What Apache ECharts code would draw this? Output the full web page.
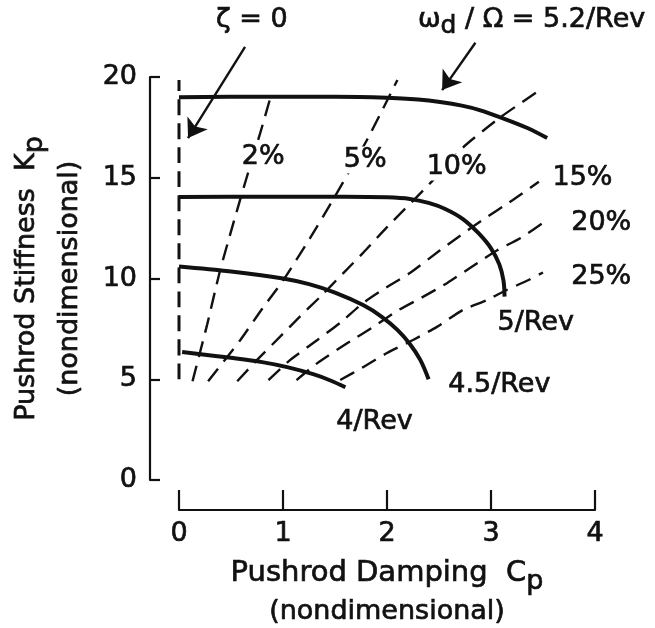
<!DOCTYPE html>
<html><head><meta charset="utf-8">
<script src="https://cdn.jsdelivr.net/npm/echarts@6/dist/echarts.min.js"></script>
<style>html,body{margin:0;padding:0;background:#fff}#c{width:655px;height:628px}</style>
</head><body><div id="c"></div><script>
// Frequency curves (omega_d / Omega), thick solid
const curve52 = [[0,19.0],[0.8,19.02],[1.5,19.02],[2.0,18.97],[2.3,18.88],[2.51,18.76],[2.72,18.58],[2.89,18.36],[3.09,18.0],[3.35,17.47],[3.54,16.97]];
const curve5  = [[0,14.05],[0.8,14.06],[1.6,14.06],[2.0,14.03],[2.22,13.95],[2.4,13.75],[2.56,13.45],[2.73,12.95],[2.88,12.25],[3.0,11.5],[3.08,10.7],[3.12,9.9],[3.13,9.1]];
const curve45 = [[0,10.6],[0.5,10.35],[1.0,10.0],[1.25,9.72],[1.5,9.3],[1.77,8.68],[1.95,8.1],[2.1,7.45],[2.22,6.75],[2.32,5.96],[2.4,5.0]];
const curve4  = [[0.03,6.35],[0.52,6.05],[0.8,5.85],[1.04,5.6],[1.29,5.25],[1.45,4.95],[1.6,4.6]];
// Damping ratio lines, dashed
const zeta0  = [[0,5.0],[0,19.85]];
const damp2  = [[0.13,4.9],[0.27,7.7],[0.39,10.3],[0.52,12.7],[0.65,15.0],[0.78,17.2],[0.88,19.0]];
const damp5  = [[0.28,4.9],[0.59,6.95],[0.8,8.5],[1.0,9.9],[1.26,12.0],[1.48,13.9],[1.81,16.9],[2.1,19.85]];
const damp10 = [[0.56,4.9],[0.75,5.96],[0.97,7.1],[1.16,8.1],[1.36,9.1],[1.58,10.27],[1.77,11.27],[2.0,12.55],[2.41,14.7],[2.73,16.5],[3.09,18.0],[3.47,19.35]];
const damp15 = [[0.86,4.96],[1.07,5.96],[1.33,6.95],[1.55,7.8],[1.77,8.78],[2.0,9.58],[2.22,10.27],[2.51,11.4],[2.67,12.0],[2.89,12.8],[3.21,13.9],[3.46,14.8]];
const damp20 = [[1.13,4.96],[1.33,5.8],[1.62,6.8],[1.87,7.6],[2.1,8.4],[2.35,9.1],[2.58,9.78],[2.87,10.77],[3.06,11.4],[3.28,12.0],[3.54,12.9]];
const damp25 = [[1.55,4.96],[1.77,5.6],[2.0,6.3],[2.25,6.95],[2.48,7.6],[2.73,8.44],[2.96,8.93],[3.15,9.43],[3.35,9.9],[3.5,10.3]];
// Annotation arrows (tail -> head)
const arrowZeta = [[0.635,21.5],[0.087,16.97]];
const arrowOmega = [[2.85,21.7],[2.53,19.35]];
// Text annotations
const labelText = ['ζ = 0','{w|ω}{sub|d}{w| / Ω = 5.2/Rev}','2%','5%','10%','15%','20%','25%','5/Rev','4.5/Rev','4/Rev'];
const labelX = [0.70,3.39,0.81,1.79,2.67,3.88,4.06,4.06,3.43,3.08,1.88];
const labelY = [22.83,22.83,16.03,15.88,15.53,14.99,12.75,10.07,7.79,4.71,2.90];
// Axes
const xTicks = [0,1,2,3,4];
const yTicks = [0,5,10,15,20];

const FONT = 'DejaVu Sans';
const INK = '#111';
const FS = 27;
const BW = 0.7;
const chart = echarts.init(document.getElementById('c'), null, {renderer:'canvas'});
function solid(data){ return {type:'line', data, showSymbol:false, smooth:0.35, lineStyle:{color:INK,width:4}, clip:false, z:3, silent:true}; }
function dashed(data, dash, w){ return {type:'line', data, showSymbol:false, smooth:0.2, lineStyle:{color:INK,width:w||2.4,type:dash||[16,9]}, clip:false, z:2, silent:true}; }
function txt(size, extra){ return Object.assign({fontFamily:FONT, fontSize:size, color:INK, textBorderColor:INK, textBorderWidth:BW}, extra||{}); }
chart.setOption({
  animation:false,
  backgroundColor:'#fff',
  grid:{left:179, right:60, top:77, bottom:148, containLabel:false, outerBoundsMode:'none'},
  xAxis:{type:'value', min:xTicks[0], max:xTicks[xTicks.length-1], interval:1, offset:30,
    axisLine:{show:true, onZero:false, lineStyle:{color:INK,width:2.2}},
    axisTick:{show:true, inside:true, length:20, lineStyle:{color:INK,width:2.2}},
    splitLine:{show:false},
    axisLabel:txt(FS,{margin:10}),
    name:'{a|Pushrod Damping  C}{s|p}\n{b|(nondimensional)}',
    nameLocation:'middle', nameGap:37,
    nameTextStyle:txt(FS,{lineHeight:38, rich:{a:txt(FS+2,{lineHeight:38}), b:txt(FS,{lineHeight:38}), s:txt(FS,{lineHeight:38,padding:[16,0,0,0]})}})
  },
  yAxis:{type:'value', min:yTicks[0], max:yTicks[yTicks.length-1], interval:5, offset:29,
    axisLine:{show:true, onZero:false, lineStyle:{color:INK,width:2.2}},
    axisTick:{show:true, inside:true, length:10, lineStyle:{color:INK,width:2.2}},
    splitLine:{show:false},
    axisLabel:txt(FS,{margin:13}),
    name:'{a|Pushrod Stiffness  K}{s|p}\n{a|(nondimensional)}',
    nameLocation:'middle', nameGap:59, nameRotate:90,
    nameTextStyle:txt(FS,{lineHeight:43, rich:{a:txt(FS,{lineHeight:43}), s:txt(FS,{lineHeight:43,padding:[16,0,0,0]})}})
  },
  series:[
    dashed(zeta0,[16,8],3),
    dashed(damp2), dashed(damp5), dashed(damp10), dashed(damp15), dashed(damp20), dashed(damp25),
    solid(curve52), solid(curve5), solid(curve45), solid(curve4),
    {type:'lines', coordinateSystem:'cartesian2d', clip:false, silent:true, z:4,
     symbol:['none','arrow'], symbolSize:[0,18],
     lineStyle:{color:INK, width:2.4, curveness:0, opacity:1},
     data:[{coords:arrowZeta},{coords:arrowOmega}]},
    {type:'scatter', clip:false, silent:true, z:5, symbolSize:1, itemStyle:{color:'#fff', opacity:1},
     label:txt(FS,{show:true, position:'inside', opacity:1, backgroundColor:'#fff', padding:[0,2],
       rich:{w:txt(FS), sub:txt(FS-2,{padding:[14,0,0,0]})}}),
     emphasis:{disabled:true},
     data:labelText.map((t,i)=>({value:[labelX[i],labelY[i]], label:{formatter:t}}))}
  ]
});
</script></body></html>
